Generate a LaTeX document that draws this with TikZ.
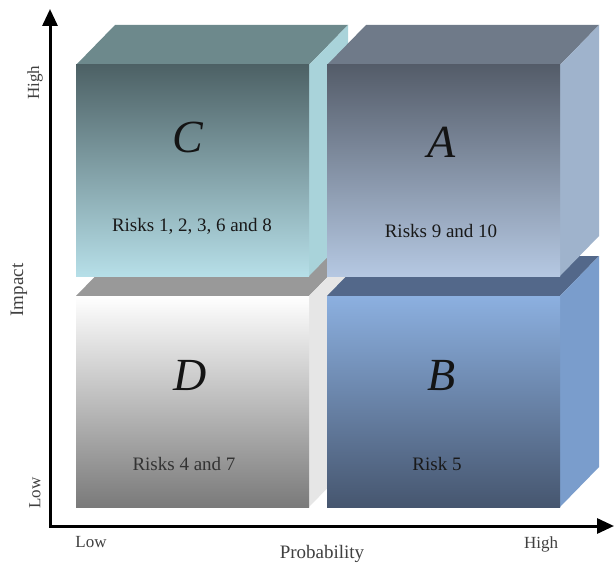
\documentclass[tikz,border=0pt]{standalone}
\usepackage{fontspec}
\setmainfont{Liberation Serif}
\usepackage{tikz}
\usetikzlibrary{arrows.meta}
\definecolor{ctop}{HTML}{4D6165}
\definecolor{cbot}{HTML}{B6DFE8}
\definecolor{clid}{HTML}{6D898C}
\definecolor{cside}{HTML}{A9D3DA}
\definecolor{atop}{HTML}{545C69}
\definecolor{abot}{HTML}{B5C8E2}
\definecolor{alid}{HTML}{6F7A89}
\definecolor{aside}{HTML}{9FB3CC}
\definecolor{dtop}{HTML}{FFFFFF}
\definecolor{dbot}{HTML}{7A7A7A}
\definecolor{dlid}{HTML}{999999}
\definecolor{dside}{HTML}{E6E6E6}
\definecolor{btop}{HTML}{8CB0E0}
\definecolor{bbot}{HTML}{46566F}
\definecolor{blid}{HTML}{53688A}
\definecolor{bside}{HTML}{7A9DCC}
\tikzstyle{letter}=[font=\fontsize{46}{50}\selectfont\itshape,text=black!92]
\tikzstyle{risklabel}=[font=\fontsize{19}{22}\selectfont,text=black!90]
\tikzstyle{axislabel}=[font=\fontsize{17}{20}\selectfont,text=black!75]
\tikzstyle{axis}=[line width=3pt,{Triangle[length=17pt,width=15pt]}-{Triangle[length=17pt,width=15pt]}]

\begin{document}
\begin{tikzpicture}[x=1pt,y=1pt]
\useasboundingbox[fill=white] (0,0) rectangle (615,566);
% cubes: bottom row first, then top row
\foreach \px/\py/\cb in {76/59/d, 327/59/b, 76/290/c, 327/290/a}{
  \fill[\cb lid] (\px,\py+211) -- ++(233,0) -- ++(39,40) -- ++(-233,0) -- cycle;
  \fill[\cb side] (\px+233,\py) -- ++(39,40) -- ++(0,211) -- ++(-39,-40) -- cycle;
  \shade[top color=\cb top,bottom color=\cb bot] (\px,\py) rectangle ++(233,211);
}
\node[letter] (letterC) at (188,429) {C};
\node[letter] (letterA) at (442,424) {A};
\node[letter] (letterD) at (190,191) {D};
\node[letter] (letterB) at (442,190) {B};
\node[risklabel] (riskC) at (192,340) {Risks 1, 2, 3, 6 and 8};
\node[risklabel] (riskA) at (441,335) {Risks 9 and 10};
\node[risklabel,text=black!80] (riskD) at (184,102) {Risks 4 and 7};
\node[risklabel] (riskB) at (437,102) {Risk 5};
% axes
\coordinate (origin) at (50,40);
\coordinate (ytip) at (50,557);
\coordinate (xtip) at (614,40);
\draw[axis] (ytip) -- (origin) -- (xtip);
\node[axislabel,rotate=90] (highY) at (35,483) {High};
\node[axislabel,rotate=90,font=\fontsize{19}{22}\selectfont] (impact) at (19,276) {Impact};
\node[axislabel,rotate=90] (lowY) at (35,73) {Low};
\node[axislabel] (lowX) at (91,24) {Low};
\node[axislabel,font=\fontsize{19}{22}\selectfont] (prob) at (322,12) {Probability};
\node[axislabel] (highX) at (541,22) {High};
\end{tikzpicture}
\end{document}
